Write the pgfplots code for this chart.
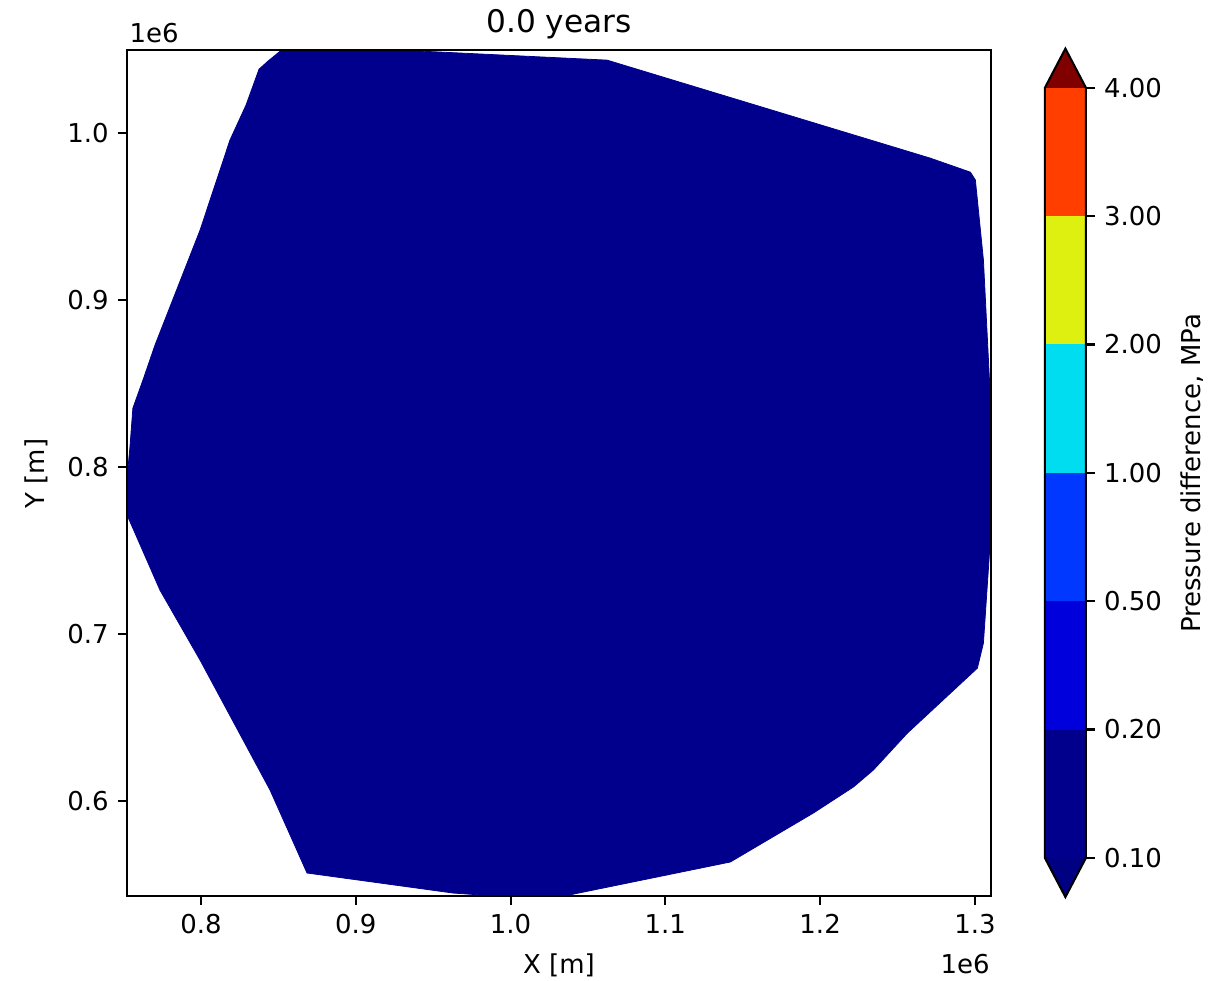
\documentclass[border=0pt]{standalone}
\usepackage{fontspec}
\setmainfont{DejaVu Sans}
\usepackage{pgfplots}
\pgfplotsset{compat=1.18}
\definecolor{poly}{RGB}{0,0,140}
\definecolor{cb0}{RGB}{0,0,130}
\definecolor{cb1}{RGB}{0,0,140}
\definecolor{cb2}{RGB}{0,0,220}
\definecolor{cb3}{RGB}{0,56,255}
\definecolor{cb4}{RGB}{0,220,240}
\definecolor{cb5}{RGB}{222,240,16}
\definecolor{cb6}{RGB}{255,62,0}
\definecolor{cb7}{RGB}{128,0,0}
\begin{document}
\begin{tikzpicture}
\path[use as bounding box] (0,0) rectangle (470.5pt,377.7pt);
\begin{axis}[
  at={(48.9pt,32.7pt)}, anchor=south west,
  scale only axis, width=332.6pt, height=325.7pt,
  xmin=0.7522, xmax=1.3103, ymin=0.5431, ymax=1.0497,
  xtick={0.8,0.9,1.0,1.1,1.2,1.3}, ytick={0.6,0.7,0.8,0.9,1.0},
  scaled ticks=false,
  /pgf/number format/assume math mode=true,
  xticklabel style={/pgf/number format/.cd, fixed, fixed zerofill, precision=1},
  yticklabel style={/pgf/number format/.cd, fixed, fixed zerofill, precision=1},
  tick label style={font=\fontsize{10}{12}\selectfont},
  tick align=outside, xtick pos=bottom, ytick pos=left,
  major tick length=3.5pt,
  every tick/.style={black, line width=0.8pt},
  axis line style={line width=0.8pt},
  axis on top,
]
\addplot[fill=poly, draw=poly, line width=0.3pt] coordinates {
(0.8433,1.0431) (0.8537,1.0510) (0.9286,1.0497) (1.0624,1.0437)
(1.2712,0.9850) (1.2971,0.9766) (1.3003,0.9719) (1.3055,0.9240)
(1.3094,0.8521) (1.3115,0.8341) (1.3115,0.7503) (1.3094,0.7485)
(1.3055,0.6946) (1.3016,0.6796) (1.2564,0.6407) (1.2344,0.6186)
(1.2215,0.6084) (1.1956,0.5928) (1.1420,0.5635) (1.0340,0.5430)
(1.0000,0.5425) (0.9629,0.5449) (0.8685,0.5569) (0.8446,0.6066)
(0.7994,0.6844) (0.7735,0.7263) (0.7528,0.7701) (0.7515,0.7862)
(0.7541,0.8120) (0.7560,0.8353) (0.7625,0.8521) (0.7703,0.8731)
(0.7994,0.9419) (0.8187,0.9958) (0.8291,1.0168) (0.8375,1.0383)
} -- cycle;
\end{axis}
\begin{axis}[
  at={(402.3pt,47.4pt)}, anchor=south west,
  scale only axis, width=15.8pt, height=296.5pt,
  xmin=0, xmax=1, ymin=0, ymax=6,
  axis x line=none, axis y line*=right,
  ytick={0,1,2,3,4,5,6},
  yticklabels={0.10,0.20,0.50,1.00,2.00,3.00,4.00},
  tick label style={font=\fontsize{10}{12}\selectfont},
  tick align=outside, major tick length=3.5pt,
  every tick/.style={black, line width=0.8pt},
  axis line style={line width=0.8pt, -},
  clip=false,
]
\addplot[fill=cb0, draw=none] coordinates {(0,0) (1,0) (0.5,-0.305)} -- cycle;
\addplot[fill=cb1, draw=none] coordinates {(0,0) (1,0) (1,1) (0,1)} -- cycle;
\addplot[fill=cb2, draw=none] coordinates {(0,1) (1,1) (1,2) (0,2)} -- cycle;
\addplot[fill=cb3, draw=none] coordinates {(0,2) (1,2) (1,3) (0,3)} -- cycle;
\addplot[fill=cb4, draw=none] coordinates {(0,3) (1,3) (1,4) (0,4)} -- cycle;
\addplot[fill=cb5, draw=none] coordinates {(0,4) (1,4) (1,5) (0,5)} -- cycle;
\addplot[fill=cb6, draw=none] coordinates {(0,5) (1,5) (1,6) (0,6)} -- cycle;
\addplot[fill=cb7, draw=none] coordinates {(0,6) (1,6) (0.5,6.305)} -- cycle;
\addplot[draw=black, line width=0.8pt] coordinates {(0,0) (0.5,-0.305) (1,0) (1,6) (0.5,6.305) (0,6)} -- cycle;
\end{axis}
\node[anchor=base, font=\fontsize{12}{14}\selectfont, inner sep=0pt] at (215.2pt,365pt) {0.0 years};
\node[anchor=base west, font=\fontsize{10}{12}\selectfont, inner sep=0pt] at (49.7pt,361.5pt) {1e6};
\node[anchor=base east, font=\fontsize{10}{12}\selectfont, inner sep=0pt] at (381.2pt,2.7pt) {1e6};
\node[anchor=base, font=\fontsize{10}{12}\selectfont, inner sep=0pt] at (215.2pt,2.7pt) {X [m]};
\node[anchor=base, rotate=90, font=\fontsize{10}{12}\selectfont, inner sep=0pt] at (17.3pt,195.4pt) {Y [m]};
\node[anchor=base, rotate=90, font=\fontsize{10}{12}\selectfont, inner sep=0pt] at (462.4pt,195.4pt) {Pressure difference, MPa};
\end{tikzpicture}
\end{document}
